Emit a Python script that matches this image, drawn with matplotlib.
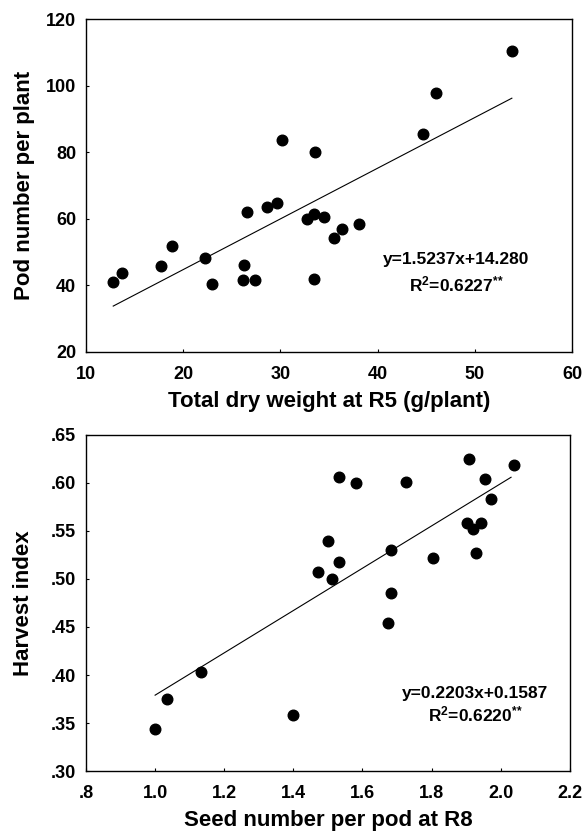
import matplotlib
matplotlib.use('Agg')
import numpy as np
import matplotlib.pyplot as plt
from matplotlib.ticker import FuncFormatter

# top panel: total dry weight at R5 vs pod number
dry_weight = [12.8, 13.7, 17.7, 18.8, 22.2, 23.0, 26.1, 26.3, 26.6, 27.4, 28.6, 29.6,
              30.2, 32.7, 33.5, 33.6, 33.4, 34.5, 35.5, 36.3, 38.1, 44.7, 46.0, 53.8]
pod_number = [41.1, 43.6, 45.9, 51.9, 48.2, 40.4, 41.7, 46.1, 62.0, 41.7, 63.6, 64.9,
              83.7, 59.9, 61.6, 80.0, 41.8, 60.6, 54.3, 56.8, 58.4, 85.6, 97.7, 110.4]
fit_top = (1.5237, 14.280)

# bottom panel: seed number per pod at R8 vs harvest index
seed_number = [1.001, 1.034, 1.134, 1.398, 1.471, 1.500, 1.511, 1.531, 1.531, 1.582,
               1.674, 1.683, 1.683, 1.726, 1.803, 1.907, 1.903, 1.920, 1.930, 1.944,
               1.956, 1.973, 2.039]
harvest_index = [.3435, .3755, .4027, .3585, .5075, .5392, .4995, .5173, .6065, .5995,
                 .4539, .4853, .5305, .6009, .5215, .6249, .5587, .5525, .5274, .5581,
                 .6037, .5831, .6187]
fit_bot = (0.2203, 0.1587)

plt.rcParams['font.family'] = 'Liberation Sans'
plt.rcParams['font.weight'] = 'bold'
plt.rcParams['mathtext.fontset'] = 'custom'
plt.rcParams['mathtext.rm'] = 'Liberation Sans:bold'
plt.rcParams['mathtext.bf'] = 'Liberation Sans:bold'
plt.rcParams['mathtext.it'] = 'Liberation Sans:bold'


def x_fmt(v, pos):
    # ".8" for the first tick, "1.0" style for the rest
    s = '{:.1f}'.format(v)
    return s[1:] if s.startswith('0') else s


def y_fmt(v, pos):
    # ".65" style
    s = '{:.2f}'.format(v)
    return s[1:] if s.startswith('0') else s


def style_axes(ax):
    for sp in ax.spines.values():
        sp.set_linewidth(1.0)
        sp.set_color('black')
    ax.tick_params(direction='in', length=2.5, width=0.8, labelsize=13)
    ax.tick_params(axis='x', pad=10)
    ax.tick_params(axis='y', pad=7)


fig = plt.figure(figsize=[5.85, 8.34], dpi=100)

# ---- top panel
ax1 = fig.add_axes([0.147, 0.578, 0.831, 0.399])
ax1.scatter(dry_weight, pod_number, s=58, color='black', zorder=3)
xl = np.array([min(dry_weight), max(dry_weight)])
ax1.plot(xl, fit_top[0] * xl + fit_top[1], color='black', lw=0.8)
ax1.set_xlim(10, 60)
ax1.set_ylim(20, 120)
ax1.set_xticks(range(10, 61, 10))
ax1.set_yticks(range(20, 121, 20))
ax1.set_xlabel('Total dry weight at R5 (g/plant)', fontsize=16, fontweight='bold', labelpad=6)
ax1.set_ylabel('Pod number per plant', fontsize=16, fontweight='bold', labelpad=8)
ax1.text(0.762, 0.277, 'y=1.5237x+14.280', transform=ax1.transAxes, ha='center', va='center',
         fontsize=12.5, fontweight='bold')
ax1.text(0.762, 0.202, r'R$^{2}$=0.6227$^{{*}{*}}$', transform=ax1.transAxes, ha='center', va='center',
         fontsize=12.5, fontweight='bold')
style_axes(ax1)

# ---- bottom panel
ax2 = fig.add_axes([0.147, 0.0755, 0.827, 0.403])
ax2.scatter(seed_number, harvest_index, s=58, color='black', zorder=3)
xl = np.array([1.0, 2.03])
ax2.plot(xl, fit_bot[0] * xl + fit_bot[1], color='black', lw=0.8)
ax2.set_xlim(0.8, 2.2)
ax2.set_ylim(0.30, 0.65)
ax2.set_xticks(np.arange(0.8, 2.21, 0.2))
ax2.set_yticks(np.arange(0.30, 0.651, 0.05))
ax2.xaxis.set_major_formatter(FuncFormatter(x_fmt))
ax2.yaxis.set_major_formatter(FuncFormatter(y_fmt))
ax2.set_xlabel('Seed number per pod at R8', fontsize=16, fontweight='bold', labelpad=6)
ax2.set_ylabel('Harvest index', fontsize=16, fontweight='bold', labelpad=12)
ax2.text(0.805, 0.232, 'y=0.2203x+0.1587', transform=ax2.transAxes, ha='center', va='center',
         fontsize=12.5, fontweight='bold')
ax2.text(0.805, 0.167, r'R$^{2}$=0.6220$^{{*}{*}}$', transform=ax2.transAxes, ha='center', va='center',
         fontsize=12.5, fontweight='bold')
style_axes(ax2)

# make the tick labels bold once they exist
fig.canvas.draw()
for ax in [ax1, ax2]:
    for lab in ax.get_xticklabels() + ax.get_yticklabels():
        lab.set_fontweight('bold')

fig.savefig('out.png', dpi=100)
